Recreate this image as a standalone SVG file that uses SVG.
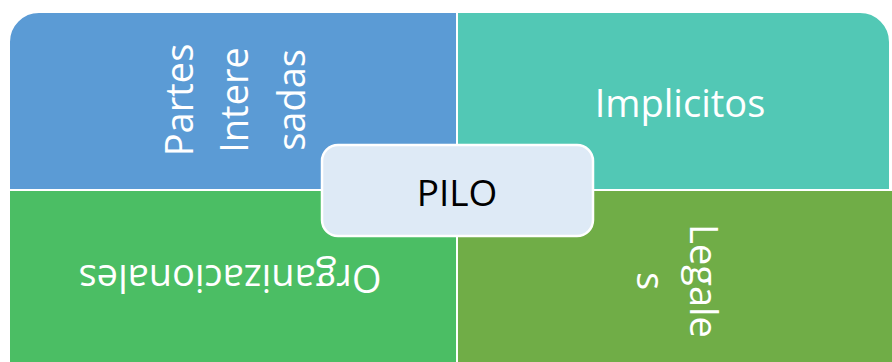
<svg xmlns="http://www.w3.org/2000/svg" width="892" height="362" viewBox="0 0 892 362">
<style>
.q{stroke:#FFFFFF;stroke-width:2}
.t{font-family:"Open Sans","Noto Sans",sans-serif;font-size:38px;fill:#FFFFFF;text-anchor:middle}
.c{font-family:"Open Sans","Noto Sans",sans-serif;font-size:37px;fill:#000000;text-anchor:middle}
</style>
<rect width="892" height="362" fill="#FFFFFF"/>
<g id="partes-interesadas">
<path class="q" fill="#5B9BD5" d="M9,190 V42 A30,30 0 0 1 39,12 H457 V190 Z"/>
<text class="t" transform="translate(193,100) rotate(-90)">Partes</text>
<text class="t" transform="translate(248,100) rotate(-90)">Intere</text>
<text class="t" transform="translate(305,100) rotate(-90)">sadas</text>
</g>
<g id="implicitos">
<path class="q" fill="#52C8B5" d="M457,12 H860 A30,30 0 0 1 890,42 V190 H457 Z"/>
<text class="t" x="680" y="117">Implicitos</text>
</g>
<g id="organizacionales">
<path class="q" fill="#4BBE64" d="M9,190 H457 V395 H39 A30,30 0 0 1 9,365 Z"/>
<text class="t" transform="translate(230,265) rotate(180)">Organizacionales</text>
</g>
<g id="legales">
<path class="q" fill="#70AD47" d="M457,190 H900 V395 H457 Z"/>
<text class="t" transform="translate(690,281) rotate(90)">Legale</text>
<text class="t" transform="translate(637,281) rotate(90)">s</text>
</g>
<g id="connectors"></g>
<g id="pilo">
<rect x="322" y="145" width="271" height="91" rx="16" ry="16" fill="#DEEAF6" stroke="#FFFFFF" stroke-width="2.5"/>
<text class="c" x="457" y="206">PILO</text>
</g>
</svg>
